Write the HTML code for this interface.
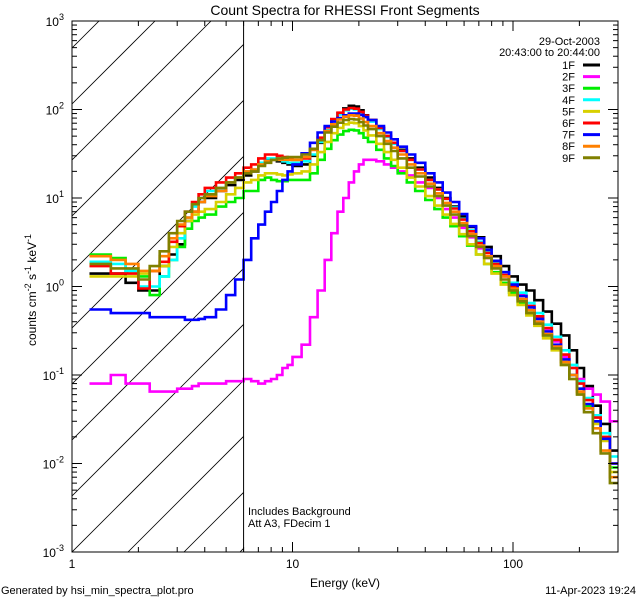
<!DOCTYPE html>
<html><head><meta charset="utf-8"><style>
html,body{margin:0;padding:0;background:#fff;width:640px;height:600px;overflow:hidden}
svg{display:block;font-family:"Liberation Sans",sans-serif}
</style></head><body>
<svg id="chart" width="640" height="600" viewBox="0 0 640 600" xmlns="http://www.w3.org/2000/svg">
<rect width="640" height="600" fill="#fff"/>
<text x="345" y="15" font-size="14" text-anchor="middle">Count Spectra for RHESSI Front Segments</text>
<defs><clipPath id="plotclip"><rect x="72" y="21" width="546" height="531"/></clipPath>
<clipPath id="hatchclip"><rect x="72" y="21" width="172" height="531"/></clipPath></defs>
<g id="hatch" clip-path="url(#hatchclip)"></g>
<g id="series" clip-path="url(#plotclip)"></g>
<g id="axes"></g>
<text x="600" y="45" font-size="11" text-anchor="end">29-Oct-2003</text>
<text x="600" y="56" font-size="11" text-anchor="end">20:43:00 to 20:44:00</text>
<g id="legend"></g>
<text x="248" y="515" font-size="11">Includes Background</text>
<text x="248" y="527" font-size="11">Att A3, FDecim 1</text>
<text x="345" y="587" font-size="12" text-anchor="middle">Energy (keV)</text>
<text x="1" y="594" font-size="11">Generated by hsi_min_spectra_plot.pro</text>
<text x="636" y="594" font-size="11" text-anchor="end">11-Apr-2023 19:24</text>
<text transform="translate(36,290) rotate(-90)" font-size="12" text-anchor="middle">counts cm<tspan dy="-5" font-size="9">-2</tspan><tspan dy="5"> s</tspan><tspan dy="-5" font-size="9">-1</tspan><tspan dy="5"> keV</tspan><tspan dy="-5" font-size="9">-1</tspan></text>
</svg>
<script>
const energies=[1.2,1.5,1.75,2,2.25,2.5,2.75,3,3.25,3.5,3.75,4,4.5,5,5.5,6,
6.5,7,7.5,8,8.5,9,9.5,10,11,12,13,14,15,16,17,18,19,20,21,22,
24,26,28,30,33,36,40,44,48,52,57,62,68,74,80,88,96,105,115,125,137,150,165,180,195,210,230,250,275,300];
const seriesNames=["1F","2F","3F","4F","5F","6F","7F","8F","9F"];
const seriesColors=["#000000","#ff00ff","#00ee00","#00ffff","#d8d000","#ff0000","#0000ff","#ff8000","#808000"];
const s1F=[1.4,1.4,1.1,0.9,0.9,1.7,2.3,3.0,5.5,7,9,10,12,14,16,18,
20,25,27,27,26,25,24,23,24,30,42,58,75,90,103,110,108,98,86,76,
62,50,42,35,28,22,17,13,10,8,6.2,4.7,3.6,2.8,2.2,1.7,1.3,1.05,0.9,0.7,0.52,0.38,0.28,0.19,0.12,0.075,0.045,0.028,0.014,0.012];
const s2F=[0.08,0.1,0.08,0.08,0.065,0.065,0.065,0.07,0.07,0.075,0.08,0.08,0.08,0.085,0.085,0.09,
0.085,0.08,0.085,0.09,0.1,0.12,0.13,0.16,0.22,0.45,0.9,2,4,7,10,15,20,24,27,27,
26,24,22,20,18,15,13,10,7.5,6,4.6,3.6,2.7,2.1,1.7,1.3,1.0,0.8,0.6,0.45,0.32,0.24,0.16,0.12,0.09,0.07,0.06,0.05,0.03,0.02];
const s3F=[2.3,2.1,1.5,1.3,0.8,1.3,2.0,2.8,4.5,5.5,6,6.5,8,9,10,12,
12,16,17,16,15.5,15.5,16,16,16,19,27,36,45,52,57,59,58,54,48,43,
35,28,23,19,15,12,9.5,7.5,6,4.8,3.7,2.9,2.3,1.8,1.45,1.1,0.85,0.65,0.5,0.38,0.28,0.2,0.14,0.1,0.07,0.045,0.03,0.02,0.009,0.008];
const s4F=[1.9,1.8,1.5,1.0,1.0,1.3,2.0,3.5,6,8,10,12,13,15,17,20,
21,25,28,28,27,26,25,25,26,31,43,58,74,88,98,102,100,92,82,73,
60,49,41,34,27,21,16,12.5,9.8,7.8,5.8,4.3,3.2,2.5,1.9,1.45,1.1,0.85,0.65,0.5,0.37,0.27,0.19,0.13,0.085,0.055,0.035,0.022,0.012,0.01];
const s5F=[1.3,1.3,1.3,1.4,1.5,1.7,2.8,4,5.5,6.5,7,7.5,9,11,13,15,
16,18,19,19,18.5,18,18.5,19,20,24,33,43,54,62,68,71,70,65,58,51,
41,33,27,22,17,13.5,10.5,8.2,6.5,5.1,3.9,3.0,2.3,1.8,1.4,1.05,0.8,0.62,0.47,0.36,0.26,0.19,0.13,0.09,0.062,0.042,0.028,0.018,0.008,0.007];
const s6F=[1.7,1.4,1.4,0.95,1.5,1.9,3.2,4.8,7,9,11,13,15,17,19,22,
24,28,31,31,30,29,28,27,28,35,48,63,78,92,100,104,102,94,85,76,
62,50,42,34,27,21,16,12.5,9.8,7.6,5.7,4.2,3.1,2.4,1.8,1.35,1.0,0.78,0.6,0.46,0.34,0.25,0.17,0.12,0.08,0.052,0.033,0.02,0.01,0.009];
const s7F=[0.55,0.5,0.5,0.5,0.45,0.45,0.45,0.45,0.42,0.42,0.43,0.45,0.55,0.8,1.2,2.0,
3.5,5,7,9,12,16,20,24,32,42,55,65,73,80,86,90,90,87,82,76,
65,55,46,38,31,25,19,15,11.5,9,6.6,4.8,3.5,2.6,1.95,1.45,1.05,0.78,0.58,0.43,0.31,0.22,0.15,0.1,0.07,0.047,0.03,0.019,0.01,0.008];
const s8F=[2.2,2.0,1.8,1.5,1.5,2.2,3.5,5,6,7,9,10.5,12,15,17,20,
21,24,26,27,27,27,27,27,29,35,45,57,68,77,83,86,85,79,72,65,
54,44,37,31,24,19,14.5,11.3,8.8,7,5.2,3.9,2.9,2.2,1.7,1.3,0.95,0.72,0.54,0.4,0.29,0.21,0.14,0.1,0.065,0.042,0.025,0.014,0.007,0.006];
const s9F=[1.8,1.6,1.6,1.2,1.7,2.5,4,5.5,7,8.5,10,11,13,15,17,19,
20,23,25,27,28,28.5,29,29,31,36,45,55,64,71,76,78,77,72,66,60,
50,41,34,28,22,17.5,13.5,10.5,8.2,6.5,4.9,3.7,2.8,2.1,1.6,1.2,0.9,0.68,0.5,0.38,0.28,0.2,0.13,0.09,0.06,0.038,0.022,0.013,0.006,0.005];
const seriesValues=[s1F,s2F,s3F,s4F,s5F,s6F,s7F,s8F,s9F];
const xTickLabels=["1","10","100"];
const yTickExps=[-3,-2,-1,0,1,2,3];

const NS="http://www.w3.org/2000/svg";
const X0=72,X1=618,Y0=552,Y1=21;
const xMinLog=0,xMaxLog=(618-72)/220.5;
const yMinLog=-3,yMaxLog=3;
function xs(e){return X0+(Math.log10(e)-xMinLog)/(xMaxLog-xMinLog)*(X1-X0);}
function ys(v){return Y0-(Math.log10(v)-yMinLog)/(yMaxLog-yMinLog)*(Y0-Y1);}
function mk(tag,attrs,parent){const el=document.createElementNS(NS,tag);for(const k in attrs)el.setAttribute(k,attrs[k]);parent.appendChild(el);return el;}

const hatch=document.getElementById('hatch');
for(let i=-12;i<12;i++){
  const b=Y0+i*56;
  const ln=mk('line',{x1:X0,y1:b,x2:X0+560,y2:b-560,stroke:'#000','stroke-width':0.8},hatch);
  
  
}
const vl=mk('line',{x1:xs(6),y1:Y1,x2:xs(6),y2:Y0,stroke:'#000','stroke-width':1},document.getElementById('axes'));



const sg=document.getElementById('series');
seriesValues.forEach((vals,si)=>{
  let d='';
  for(let i=0;i<energies.length-1;i++){
    const xa=xs(energies[i]),xb=xs(energies[i+1]),y=ys(vals[i]);
    d+=(i===0?'M':'L')+xa.toFixed(1)+','+y.toFixed(1)+'L'+xb.toFixed(1)+','+y.toFixed(1);
  }
  const p=mk('path',{d:d,fill:'none',stroke:seriesColors[si],'stroke-width':2.6},sg);
  
  
});

const ax=document.getElementById('axes');
const fr=mk('rect',{x:X0,y:Y1,width:X1-X0,height:Y0-Y1,fill:'none',stroke:'#000','stroke-width':1},ax);


for(let dec=0;dec<3;dec++){
  for(let m=1;m<10;m++){
    const e=m*Math.pow(10,dec);
    if(Math.log10(e)>xMaxLog)break;
    const x=xs(e),len=(m===1)?10:5;
    const t1=mk('line',{x1:x,y1:Y0,x2:x,y2:Y0-len,stroke:'#000'},ax);
    
    
    const t2=mk('line',{x1:x,y1:Y1,x2:x,y2:Y1+len,stroke:'#000'},ax);
    
    
  }
}
xTickLabels.forEach((lb,i)=>{
  const t=mk('text',{x:xs(Math.pow(10,i)),y:Y0+16,'font-size':12,'text-anchor':'middle'},ax);
  t.textContent=lb;
  
  
});
yTickExps.forEach(ex=>{
  for(let m=1;m<10;m++){
    const v=m*Math.pow(10,ex);
    if(ex===3&&m>1)break;
    const y=ys(v),len=(m===1)?10:5;
    const t1=mk('line',{x1:X0,y1:y,x2:X0+len,y2:y,stroke:'#000'},ax);
    
    
    const t2=mk('line',{x1:X1,y1:y,x2:X1-len,y2:y,stroke:'#000'},ax);
    
    
  }
  const t=mk('text',{x:X0-8,y:ys(Math.pow(10,ex))+5,'font-size':12,'text-anchor':'end'},ax);
  t.innerHTML='10<tspan dy="-6" font-size="9">'+ex+'</tspan>';
  
  
});

const lg=document.getElementById('legend');
seriesNames.forEach((n,i)=>{
  const y=65+i*11.6;
  const t=mk('text',{x:575,y:y+4,'font-size':11,'text-anchor':'end'},lg);
  t.textContent=n;
  
  
  const l=mk('line',{x1:583,y1:y,x2:600,y2:y,stroke:seriesColors[i],'stroke-width':3},lg);
  
  
});
</script>
</body></html>
